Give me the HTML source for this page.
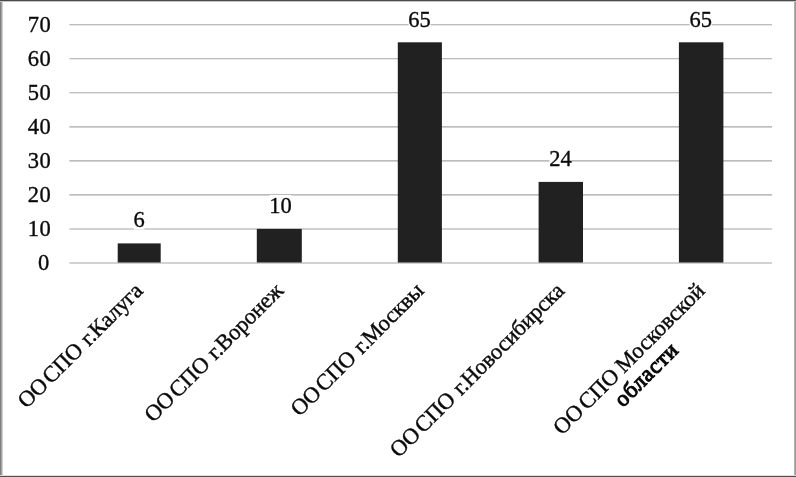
<!DOCTYPE html>
<html lang="ru"><head><meta charset="utf-8"><title>chart</title>
<style>html,body{margin:0;padding:0;background:#fff;overflow:hidden}body{width:796px;height:477px;position:relative}</style></head>
<body>
<svg width="796" height="477" viewBox="0 0 796 477" style="display:block;position:absolute;left:0;top:0">
<rect x="0" y="0" width="796" height="477" fill="#fff"/>
<line x1="69.4" y1="263.0" x2="772.0" y2="263.0" stroke="#a6a6a6" stroke-width="1.1"/>
<line x1="69.4" y1="229.0" x2="772.0" y2="229.0" stroke="#a6a6a6" stroke-width="1.1"/>
<line x1="69.4" y1="194.9" x2="772.0" y2="194.9" stroke="#a6a6a6" stroke-width="1.1"/>
<line x1="69.4" y1="160.9" x2="772.0" y2="160.9" stroke="#a6a6a6" stroke-width="1.1"/>
<line x1="69.4" y1="126.9" x2="772.0" y2="126.9" stroke="#a6a6a6" stroke-width="1.1"/>
<line x1="69.4" y1="92.8" x2="772.0" y2="92.8" stroke="#a6a6a6" stroke-width="1.1"/>
<line x1="69.4" y1="58.8" x2="772.0" y2="58.8" stroke="#a6a6a6" stroke-width="1.1"/>
<line x1="69.4" y1="24.8" x2="772.0" y2="24.8" stroke="#a6a6a6" stroke-width="1.1"/>
<rect x="117.7" y="243.4" width="43.0" height="19.1" fill="#212121"/>
<rect x="256.8" y="228.9" width="45.0" height="33.6" fill="#212121"/>
<rect x="397.8" y="42.3" width="44.1" height="220.2" fill="#212121"/>
<rect x="538.6" y="181.9" width="44.4" height="80.6" fill="#212121"/>
<rect x="678.9" y="42.3" width="44.5" height="220.2" fill="#212121"/>
<rect x="133.7" y="208.5" width="10.8" height="21" fill="#fff"/>
<rect x="269.5" y="195.0" width="22.0" height="21" fill="#fff"/>
<rect x="408.6" y="9.4" width="22.0" height="21" fill="#fff"/>
<rect x="549.5" y="147.8" width="22.0" height="21" fill="#fff"/>
<rect x="689.7" y="9.4" width="22.0" height="21" fill="#fff"/>
<g font-family="'Liberation Serif', 'Times New Roman', serif" font-size="22.5" fill="#0a0a0a" stroke="#0a0a0a" stroke-width="0.42" letter-spacing="-0.15" word-spacing="-1">
<text x="49.8" y="270.1" text-anchor="end" letter-spacing="0.5" stroke-width="0.35">0</text>
<text x="51.3" y="236.0" text-anchor="end" letter-spacing="0.5" stroke-width="0.35">10</text>
<text x="51.3" y="201.9" text-anchor="end" letter-spacing="0.5" stroke-width="0.35">20</text>
<text x="51.3" y="167.9" text-anchor="end" letter-spacing="0.5" stroke-width="0.35">30</text>
<text x="51.3" y="133.8" text-anchor="end" letter-spacing="0.5" stroke-width="0.35">40</text>
<text x="51.3" y="99.7" text-anchor="end" letter-spacing="0.5" stroke-width="0.35">50</text>
<text x="51.3" y="65.6" text-anchor="end" letter-spacing="0.5" stroke-width="0.35">60</text>
<text x="51.3" y="31.5" text-anchor="end" letter-spacing="0.5" stroke-width="0.35">70</text>
<text x="139.1" y="226.5" text-anchor="middle" letter-spacing="0" stroke-width="0.35">6</text>
<text x="280.5" y="213.0" text-anchor="middle" letter-spacing="0" stroke-width="0.35">10</text>
<text x="419.6" y="27.4" text-anchor="middle" letter-spacing="0" stroke-width="0.35">65</text>
<text x="560.5" y="165.8" text-anchor="middle" letter-spacing="0" stroke-width="0.35">24</text>
<text x="700.7" y="27.4" text-anchor="middle" letter-spacing="0" stroke-width="0.35">65</text>
<text transform="translate(143.9,292) rotate(-45)" text-anchor="end">ОО<tspan dx="-2"> СПО</tspan><tspan dx="2"> г.Калуга</tspan></text>
<text transform="translate(284.4,292) rotate(-45)" text-anchor="end">ОО<tspan dx="-2"> СПО</tspan><tspan dx="2"> г.Воронеж</tspan></text>
<text transform="translate(424.9,292) rotate(-45)" text-anchor="end">ОО<tspan dx="-2"> СПО</tspan><tspan dx="2"> г.Москвы</tspan></text>
<text transform="translate(565.4,292) rotate(-45)" text-anchor="end">ОО<tspan dx="-2"> СПО</tspan><tspan dx="2"> г.Новосибирска</tspan></text>
<text transform="translate(705.9,292) rotate(-45)" text-anchor="end" letter-spacing="0">ОО<tspan dx="-1.5"> СПО</tspan><tspan dx="0"> Московской</tspan></text>
<text transform="translate(705.9,292) rotate(-45)" x="-100.5" y="23.4" text-anchor="middle" stroke-width="1.1" letter-spacing="0.75">области</text>
</g>
<rect x="0" y="0" width="1" height="477" fill="#808080"/>
<rect x="1" y="0" width="1" height="477" fill="#a4a4a4"/>
<rect x="2" y="0" width="1" height="477" fill="#cfcfcf"/>
<rect x="794" y="0" width="1" height="477" fill="#b0b0b0"/>
<rect x="795" y="0" width="1" height="477" fill="#9c9c9c"/>
<rect x="0" y="0" width="796" height="1" fill="#4c4c4c"/>
<rect x="0" y="1" width="796" height="1" fill="#c4c4c4"/>
<rect x="0" y="475" width="796" height="1" fill="#dcdcdc"/>
<rect x="0" y="476" width="796" height="1" fill="#505050"/>
</svg>
</body></html>
